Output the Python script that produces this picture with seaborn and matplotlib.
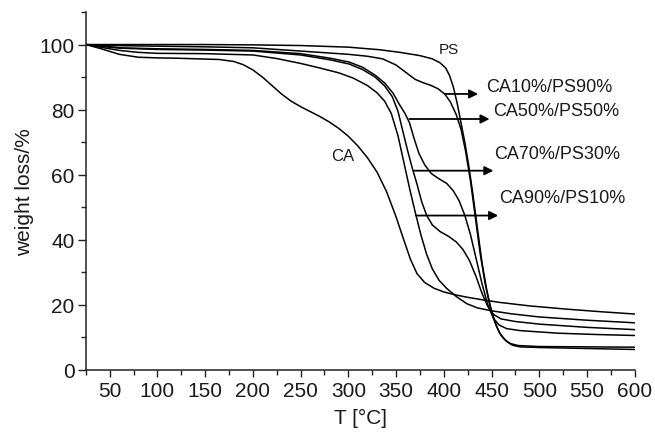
import matplotlib
matplotlib.use("Agg")
import matplotlib.pyplot as plt
import numpy as np
import pandas as pd
import seaborn as sns
from matplotlib.ticker import MultipleLocator

# TGA curves: temperature (°C) and residual weight (%) for each sample
ps_t = [25, 50, 100, 150, 200, 250, 300, 333, 354, 375, 388, 396, 402, 406, 410, 414,
        418, 422, 426, 430, 435, 440, 445, 450, 455, 460, 466, 472, 480, 500, 550, 600]
ps_w = [100, 100, 100, 100, 99.9, 99.7, 99.2, 98.4, 97.6, 96.6, 95.6, 94.4, 92.8, 90.5, 87, 82,
        76, 70, 63, 55, 44, 33, 24.5, 18, 13.5, 10.5, 8.6, 7.5, 7.0, 6.8, 6.5, 6.2]

ca10_t = [25, 50, 100, 150, 200, 250, 300, 320, 336, 350, 360, 370, 378, 386, 394, 401,
          407, 413, 418, 423, 428, 433, 438, 443, 448, 453, 458, 464, 470, 478, 500, 550, 600]
ca10_w = [100, 99.7, 99.5, 99.3, 99.0, 98.0, 97.0, 96.4, 95.6, 93.7, 91.5, 89.3, 88.3, 87.5, 86.4, 84.8,
          82.3, 78.5, 74, 67, 58, 47, 36, 27, 20, 15, 11.5, 9.2, 8.0, 7.4, 7.1, 7.0, 6.9]

ca50_t = [25, 40, 60, 100, 150, 200, 250, 281, 301, 315, 328, 338, 347, 353, 359, 364, 369,
          374, 380, 387, 395, 403, 410, 416, 422, 428, 434, 440, 446, 452, 458, 466, 480,
          520, 560, 600]
ca50_w = [100, 99.6, 99.0, 98.7, 98.5, 98.2, 97.2, 95.8, 94.6, 93.0, 90.6, 88.2, 85.0, 81.8, 79.0, 76.0, 71.0,
          66.5, 63.0, 60.3, 58.7, 57.3, 55.0, 52.0, 47.5, 41.5, 34, 26.5, 20, 15.8, 13.7, 12.6, 12.0,
          11.2, 10.8, 10.5]

ca70_t = [25, 40, 60, 100, 150, 200, 250, 281, 301, 315, 328, 338, 346, 352, 357, 362, 367,
          372, 377, 382, 388, 396, 405, 413, 420, 427, 434, 440, 446, 452, 460, 475, 500,
          550, 600]
ca70_w = [100, 99.5, 98.9, 98.5, 98.3, 98.0, 96.8, 95.3, 94.0, 92.3, 90.0, 87.3, 84.0, 79.5, 73.5, 67.5, 62.0,
          57.0, 51.5, 47.5, 44.5, 42.5, 41.0, 39.3, 37.0, 33.5, 28.5, 23.5, 19.5, 17.0, 15.6, 14.8, 14.0,
          13.0, 12.3]

ca90_t = [25, 40, 60, 80, 100, 150, 200, 225, 250, 270, 290, 305, 320, 330, 338, 345, 352,
          358, 364, 370, 376, 382, 388, 395, 403, 413, 424, 435, 450, 470, 500, 550, 600]
ca90_w = [100, 99.2, 98.2, 97.6, 97.3, 97.2, 96.8, 95.7, 94.2, 92.8, 91.3, 89.7, 87.4, 85.2, 82.6, 78.8, 72.0,
          64.0, 56.0, 48.5, 41.5, 35.5, 31.0, 27.5, 25.0, 22.5, 20.3, 19.0, 18.1, 17.2, 16.2, 15.2, 14.4]

ca_t = [25, 40, 60, 80, 100, 120, 165, 180, 190, 200, 210, 220, 230, 240, 250, 260, 270,
        280, 290, 300, 310, 320, 330, 340, 350, 358, 365, 372, 380, 390, 400, 412, 424,
        440, 458, 490, 529, 565, 600]
ca_w = [100, 98.8, 97.0, 96.1, 95.9, 95.8, 95.4, 94.8, 93.8, 92.2, 90.0, 87.4, 84.8, 82.6, 80.9, 79.4, 77.9,
        76.2, 74.2, 71.8, 68.8, 65.2, 60.8, 54.8, 47.0, 40.0, 34.0, 29.5, 26.8, 25.0, 23.9, 23.0, 22.3,
        21.5, 20.7, 19.6, 18.6, 17.8, 17.1]

samples = ["PS", "CA10%/PS90%", "CA50%/PS50%", "CA70%/PS30%", "CA90%/PS10%", "CA"]
temps = [ps_t, ca10_t, ca50_t, ca70_t, ca90_t, ca_t]
weights = [ps_w, ca10_w, ca50_w, ca70_w, ca90_w, ca_w]

frames = [pd.DataFrame({"T": t, "w": w, "sample": s}) for s, t, w in zip(samples, temps, weights)]
df = pd.concat(frames, ignore_index=True)

sns.set_theme(style="ticks")
plt.rcParams["font.family"] = ["Liberation Sans", "DejaVu Sans"]
text_col = "#1a1a1a"

fig = plt.figure(figsize=(6.55, 4.35), dpi=100)
ax = fig.add_axes([0.131, 0.148, 0.838, 0.822])

sns.lineplot(data=df, x="T", y="w", hue="sample", palette=["black"] * len(samples),
             estimator=None, sort=False, legend=False, linewidth=1.1, ax=ax)

ax.set_xlim(25, 600)
ax.set_ylim(0, 110)
ax.set_xticks(np.arange(50, 601, 50))
ax.xaxis.set_minor_locator(MultipleLocator(25))
ax.set_yticks(np.arange(0, 101, 20))
ax.yaxis.set_minor_locator(MultipleLocator(10))

for side in ("top", "right"):
    ax.spines[side].set_visible(False)
for side in ("left", "bottom"):
    ax.spines[side].set_linewidth(1.1)
    ax.spines[side].set_color("#222222")

ax.tick_params(axis="x", which="major", direction="out", length=5, width=1.0,
               labelsize=15, pad=3, colors="#222222", labelcolor=text_col)
ax.tick_params(axis="y", which="major", direction="out", length=6, width=1.0,
               labelsize=15, pad=2, colors="#222222", labelcolor=text_col)
ax.tick_params(which="minor", direction="out", length=3.5, width=1.0, colors="#222222")

ax.set_xlabel("T [°C]", fontsize=15, color=text_col, labelpad=6)
ax.set_ylabel("weight loss/%", fontsize=15, color=text_col, labelpad=4)

# curve labels and pointer arrows
arrow_kw = dict(arrowstyle="-|>", color="black", lw=1.3, mutation_scale=13,
                shrinkA=0, shrinkB=0)
ax.annotate("", xy=(436, 84.8), xytext=(401, 84.8), arrowprops=arrow_kw)
ax.annotate("", xy=(448, 77.1), xytext=(364, 77.1), arrowprops=arrow_kw)
ax.annotate("", xy=(452, 61.2), xytext=(369, 61.2), arrowprops=arrow_kw)
ax.annotate("", xy=(457, 47.4), xytext=(371, 47.4), arrowprops=arrow_kw)

lab_kw = dict(color=text_col, va="center", ha="left")
ax.text(444.5, 87.2, "CA10%/PS90%", fontsize=13, **lab_kw)
ax.text(451.5, 79.7, "CA50%/PS50%", fontsize=13, **lab_kw)
ax.text(453, 66.4, "CA70%/PS30%", fontsize=13, **lab_kw)
ax.text(458.5, 53.0, "CA90%/PS10%", fontsize=13, **lab_kw)
ax.text(282, 65.8, "CA", fontsize=12, **lab_kw)
ax.text(395, 98.7, "PS", fontsize=11, **lab_kw)

fig.savefig("out.png", dpi=100)
